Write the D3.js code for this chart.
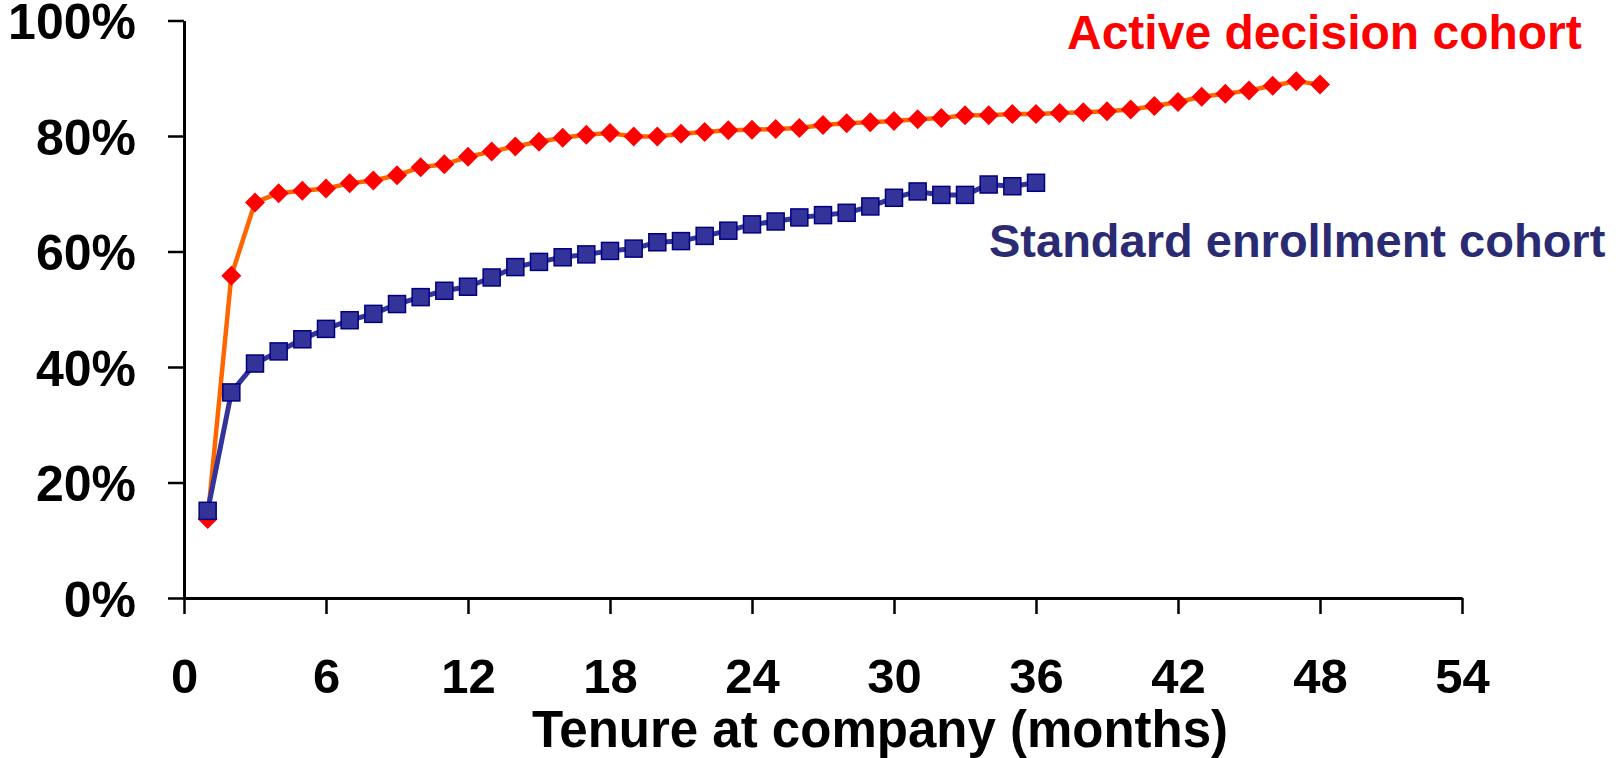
<!DOCTYPE html>
<html>
<head>
<meta charset="utf-8">
<script src="https://cdn.jsdelivr.net/npm/d3@7"></script>
<style>
  html, body { margin: 0; padding: 0; background: #fff; }
  svg { display: block; }
  text { font-family: "Liberation Sans", Arial, sans-serif; font-weight: bold; }
</style>
</head>
<body>
<svg id="chart" width="1616" height="758"></svg>
<script>
// ---- data ----
const activeMonths = d3.range(1, 49);
const activeValues = [
  0.137, 0.558, 0.685, 0.701, 0.705, 0.709, 0.718, 0.723, 0.732, 0.746,
  0.751, 0.764, 0.773, 0.782, 0.790, 0.797, 0.802, 0.805, 0.799, 0.799,
  0.804, 0.807, 0.810, 0.811, 0.812, 0.814, 0.819, 0.822, 0.824, 0.826,
  0.829, 0.831, 0.836, 0.836, 0.838, 0.838, 0.840, 0.841, 0.843, 0.846,
  0.852, 0.859, 0.868, 0.873, 0.879, 0.887, 0.895, 0.889
];
const standardMonths = d3.range(1, 37);
const standardValues = [
  0.151, 0.356, 0.406, 0.427, 0.448, 0.466, 0.481, 0.492, 0.509, 0.521,
  0.532, 0.539, 0.555, 0.573, 0.582, 0.590, 0.595, 0.601, 0.605, 0.616,
  0.618, 0.627, 0.636, 0.647, 0.652, 0.659, 0.663, 0.667, 0.678, 0.693,
  0.704, 0.698, 0.698, 0.716, 0.713, 0.719
];
const xTicks = [0, 6, 12, 18, 24, 30, 36, 42, 48, 54];
const yTicks = [0, 0.2, 0.4, 0.6, 0.8, 1.0];
const xLabel = "Tenure at company (months)";
const activeLabel = "Active decision cohort";
const standardLabel = "Standard enrollment cohort";

// ---- layout ----
const svg = d3.select("#chart");
const x = d3.scaleLinear().domain([0, 54]).range([184, 1462]);
const y = d3.scaleLinear().domain([0, 1]).range([598, 20.5]);

// axes
const yAxis = d3.axisLeft(y).tickValues(yTicks).tickSize(16).tickSizeOuter(0)
  .tickFormat(d3.format(".0%"));
const gy = svg.append("g").attr("transform", `translate(${x(0)},0)`).call(yAxis);
gy.select(".domain").attr("stroke", "#000").attr("stroke-width", 3);
gy.selectAll(".tick line").attr("stroke", "#000").attr("stroke-width", 2.5);
gy.selectAll(".tick text").attr("x", -48).attr("dy", "0.36em")
  .attr("font-size", 50).attr("fill", "#000");

const xAxis = d3.axisBottom(x).tickValues(xTicks).tickSize(16).tickSizeOuter(0)
  .tickFormat(d3.format("d"));
const gx = svg.append("g").attr("transform", `translate(0,${y(0)})`).call(xAxis);
gx.select(".domain").attr("stroke", "#000").attr("stroke-width", 3);
gx.selectAll(".tick line").attr("stroke", "#000").attr("stroke-width", 2.5);
gx.selectAll(".tick text").attr("y", 95).attr("dy", 0)
  .attr("font-size", 49).attr("fill", "#000");

gy.attr("font-family", null); gx.attr("font-family", null);

svg.append("text").attr("x", 880).attr("y", 747).attr("text-anchor", "middle")
  .attr("font-size", 51).attr("fill", "#000").text(xLabel);

// series
const activeData = activeMonths.map((m, i) => [m, activeValues[i]]);
const standardData = standardMonths.map((m, i) => [m, standardValues[i]]);
const line = d3.line().x(d => x(d[0])).y(d => y(d[1]));

svg.append("path").datum(activeData).attr("d", line)
  .attr("fill", "none").attr("stroke", "#FF6600").attr("stroke-width", 4.5)
  .attr("stroke-linejoin", "round");
svg.append("g").selectAll("path").data(activeData).join("path")
  .attr("transform", d => `translate(${x(d[0])},${y(d[1])})`)
  .attr("d", "M0,-10L10,0L0,10L-10,0Z")
  .attr("fill", "#FF0000");

svg.append("path").datum(standardData).attr("d", line)
  .attr("fill", "none").attr("stroke", "#333399").attr("stroke-width", 5)
  .attr("stroke-linejoin", "round");
svg.append("g").selectAll("rect").data(standardData).join("rect")
  .attr("x", d => x(d[0]) - 8.5).attr("y", d => y(d[1]) - 8.5)
  .attr("width", 17).attr("height", 17)
  .attr("fill", "#333399").attr("stroke", "#000080").attr("stroke-width", 1.5);

// annotations
svg.append("text").attr("x", 1067).attr("y", 49).attr("font-size", 48)
  .attr("fill", "#FF0000").text(activeLabel);
svg.append("text").attr("x", 989).attr("y", 257).attr("font-size", 47)
  .attr("fill", "#2B2B73").text(standardLabel);
</script>
</body>
</html>
